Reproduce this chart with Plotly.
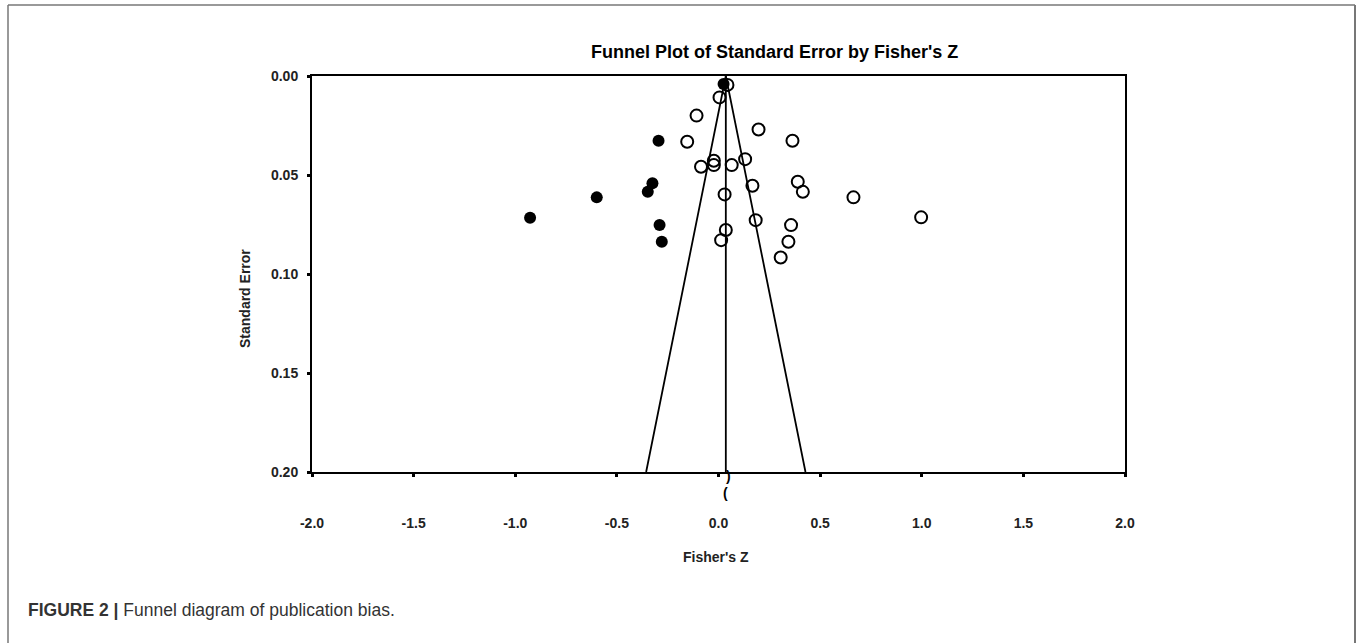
import plotly.graph_objects as go

# ---- data ----
observed_z = [0.044, 0.005, -0.108, 0.197, -0.154, 0.364, -0.023, -0.023, -0.086,
              0.065, 0.131, 0.167, 0.390, 0.415, 0.030, 0.664, 0.997, 0.183,
              0.357, 0.036, 0.013, 0.344, 0.306]
observed_se = [0.0045, 0.0108, 0.0200, 0.0270, 0.0332, 0.0327, 0.0428, 0.0450, 0.0458,
               0.0450, 0.0420, 0.0554, 0.0534, 0.0585, 0.0598, 0.0613, 0.0714, 0.0728,
               0.0753, 0.0778, 0.0829, 0.0837, 0.0917]
imputed_z = [0.025, -0.295, -0.325, -0.348, -0.599, -0.927, -0.290, -0.279]
imputed_se = [0.0040, 0.0327, 0.0542, 0.0585, 0.0613, 0.0716, 0.0753, 0.0837]
combined_effect = 0.036
observed_marker_x = 0.049
imputed_marker_x = 0.032
se_max = 0.20
x_ticks = [-2.0, -1.5, -1.0, -0.5, 0.0, 0.5, 1.0, 1.5, 2.0]
y_ticks = [0.00, 0.05, 0.10, 0.15, 0.20]

W, H = 1357, 643
L, R, T, B = 312, 1125, 76, 472   # plot area in pixels
pw, ph = R - L, B - T

def px(xp):
    return (xp - L) / pw

def py(yp):
    return (B - yp) / ph

FONT = "Liberation Sans, Arial, sans-serif"

fig = go.Figure()

# funnel
fig.add_trace(go.Scatter(
    x=[combined_effect - 1.96 * se_max, combined_effect, combined_effect + 1.96 * se_max],
    y=[se_max, 0, se_max], mode="lines",
    line=dict(color="black", width=1.8), hoverinfo="skip", showlegend=False))
fig.add_trace(go.Scatter(
    x=[combined_effect, combined_effect], y=[0, se_max], mode="lines",
    line=dict(color="black", width=1.8), hoverinfo="skip", showlegend=False))

fig.add_trace(go.Scatter(
    x=observed_z, y=observed_se, mode="markers", showlegend=False,
    marker=dict(symbol="circle-open", size=12, color="black", line=dict(width=2))))
fig.add_trace(go.Scatter(
    x=imputed_z, y=imputed_se, mode="markers", showlegend=False,
    marker=dict(symbol="circle", size=12, color="black", line=dict(width=0))))

fig.update_xaxes(range=[x_ticks[0], x_ticks[-1]], tickvals=x_ticks,
                 ticktext=[f"{v:.1f}" for v in x_ticks],
                 showgrid=False, zeroline=False, showline=True, linecolor="black",
                 linewidth=2, mirror=True, ticks="outside", ticklen=3, tickwidth=3,
                 tickcolor="black", ticklabelstandoff=34,
                 tickfont=dict(family=FONT, size=14, color="#222", weight="bold"))
fig.update_yaxes(range=[y_ticks[-1], y_ticks[0]], tickvals=y_ticks,
                 ticktext=[f"{v:.2f}" for v in y_ticks],
                 showgrid=False, zeroline=False, showline=True, linecolor="black",
                 linewidth=2, mirror=True, ticks="outside", ticklen=3, tickwidth=3,
                 tickcolor="black", ticklabelstandoff=6,
                 tickfont=dict(family=FONT, size=14, color="#222", weight="bold"))

ann = []
ann.append(dict(text="<b>Funnel Plot of Standard Error by Fisher's Z</b>", x=px(774), y=py(40),
                xref="paper", yref="paper", showarrow=False,
                font=dict(family=FONT, size=18, color="black")))
ann.append(dict(text="<b>Fisher's Z</b>", x=px(716), y=py(567), xref="paper", yref="paper",
                showarrow=False, font=dict(family=FONT, size=14, color="#222")))
ann.append(dict(text="<b>Standard Error</b>", x=px(235), y=py(299), xref="paper", yref="paper",
                showarrow=False, textangle=-90, font=dict(family=FONT, size=14, color="#222")))
ann.append(dict(text="<b>)</b>", x=observed_marker_x, y=py(486), xref="x", yref="paper",
                showarrow=False, font=dict(family=FONT, size=14, color="black")))
ann.append(dict(text="<b>(</b>", x=imputed_marker_x, y=py(503), xref="x", yref="paper",
                showarrow=False, font=dict(family=FONT, size=14, color="black")))
ann.append(dict(text="<b>FIGURE 2 |</b> Funnel diagram of publication bias.",
                x=px(26), y=py(622), xref="paper", yref="paper", xanchor="left",
                showarrow=False, font=dict(family=FONT, size=17.5, color="#333")))

shapes = [
    dict(type="line", xref="paper", yref="paper", x0=px(8), x1=px(1355), y0=py(5), y1=py(5),
         line=dict(color="#777", width=1.5)),
    dict(type="line", xref="paper", yref="paper", x0=px(8), x1=px(8), y0=py(5), y1=py(643),
         line=dict(color="#777", width=1.5)),
    dict(type="line", xref="paper", yref="paper", x0=px(1355), x1=px(1355), y0=py(5), y1=py(643),
         line=dict(color="#777", width=2)),
]

fig.update_layout(width=W, height=H, margin=dict(l=L, r=W - R, t=T, b=H - B),
                  plot_bgcolor="white", paper_bgcolor="white",
                  annotations=ann, shapes=shapes, showlegend=False)

fig.write_html("out.html", config={"displayModeBar": False},
               post_script="document.body.style.margin='0';")
